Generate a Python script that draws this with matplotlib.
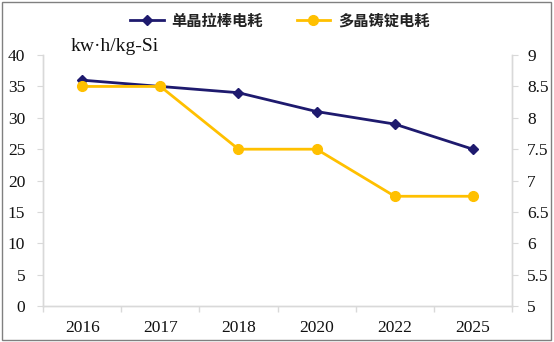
import matplotlib
matplotlib.use("Agg")
import matplotlib.pyplot as plt
from matplotlib.patches import Rectangle

years = ["2016", "2017", "2018", "2020", "2022", "2025"]
mono_label = "单晶拉棒电耗"
multi_label = "多晶铸锭电耗"
mono_power = [36, 35, 34, 31, 29, 25]          # left axis
multi_power = [8.5, 8.5, 7.5, 7.5, 6.75, 6.75]  # right axis
left_ticks = [0, 5, 10, 15, 20, 25, 30, 35, 40]
right_ticks = [5, 5.5, 6, 6.5, 7, 7.5, 8, 8.5, 9]
right_tick_labels = ["5", "5.5", "6", "6.5", "7", "7.5", "8", "8.5", "9"]
unit_label = "kw·h/kg-Si"

navy = "#1E1A6E"
gold = "#FFC000"
spine_c = "#D9D9D9"
serif = ["Liberation Serif", "DejaVu Serif"]
cjk = ["Noto Sans CJK SC", "DejaVu Sans"]

fig = plt.figure(figsize=(5.54, 3.42), dpi=100)
ax = fig.add_axes([0.078, 0.105, 0.846, 0.734])
ax2 = ax.twinx()

x = list(range(len(years)))
l1, = ax.plot(x, mono_power, color=navy, lw=2, marker="D", ms=5, zorder=3)
l2, = ax2.plot(x, multi_power, color=gold, lw=2, marker="o", ms=7, zorder=2)

ax.set_xlim(-0.5, len(years) - 0.5)
ax.set_ylim(0, 40)
ax2.set_ylim(5, 9)
ax.set_yticks(left_ticks)
ax.set_yticklabels([str(v) for v in left_ticks])
ax2.set_yticks(right_ticks)
ax2.set_yticklabels(right_tick_labels)
ax.set_xticks(x)
ax.set_xticklabels(years)
ax.set_xticks([i - 0.5 for i in range(len(years) + 1)], minor=True)
ax.tick_params(axis="x", which="major", length=0, pad=10)
ax.tick_params(axis="x", which="minor", length=4, color=spine_c, width=1)

for a in (ax, ax2):
    a.spines["top"].set_visible(False)
    for s in ("left", "right", "bottom"):
        a.spines[s].set_color(spine_c)
        a.spines[s].set_linewidth(1)
    a.set_facecolor("none")
ax.tick_params(axis="y", length=4, color=spine_c, pad=9)
ax2.tick_params(axis="y", length=4, color=spine_c, pad=7)

for lab in ax.get_xticklabels() + ax.get_yticklabels() + ax2.get_yticklabels():
    lab.set_fontfamily(serif)
    lab.set_fontsize(12.5)
    lab.set_color("#111111")

ax.text(0.058, 1.0, unit_label, transform=ax.transAxes, fontsize=14,
        family=serif, color="#111111", va="bottom", ha="left")

fig.legend([l1, l2], [mono_label, multi_label], loc="center",
           bbox_to_anchor=(0.505, 0.94), ncol=2, frameon=False,
           prop={"family": cjk, "size": 11, "weight": "bold"},
           handlelength=2.2, columnspacing=2.2, handletextpad=0.5,
           labelcolor="#222222")

fig.patches.append(Rectangle((0.004, 0.006), 0.99, 0.988, transform=fig.transFigure,
                             fill=False, edgecolor="#808080", lw=1))

fig.savefig("out.png", dpi=100)
